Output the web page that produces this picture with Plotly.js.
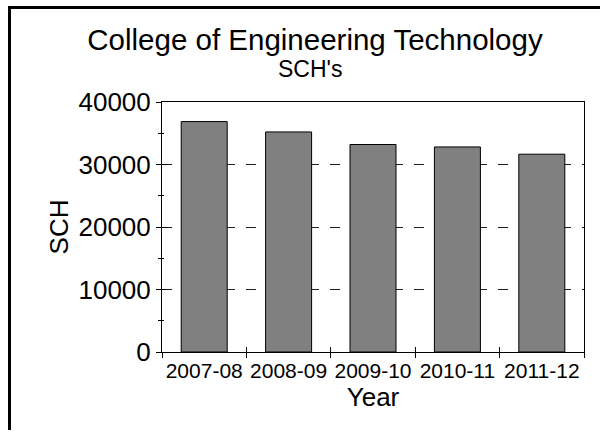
<!DOCTYPE html>
<html><head><meta charset="utf-8">
<script src="https://cdn.plot.ly/plotly-3.0.1.min.js"></script>
<style>
html,body{margin:0;padding:0;background:#fff;overflow:hidden;width:614px;height:438px}
#chart{position:absolute;left:0;top:0;width:614px;height:438px}
</style></head><body>
<div id="chart"></div>
<script>
const years = ['2007-08', '2008-09', '2009-10', '2010-11', '2011-12'];
const sch = [36870, 35210, 33200, 32810, 31650];
const yTickVals = [0, 10000, 20000, 30000, 40000];
const titleText = 'College of Engineering Technology';
const subtitleText = "SCH's";
const xTitle = 'Year';
const yTitle = 'SCH';

const FONT = 'Liberation Sans, Arial, sans-serif';
const W = 614, H = 438, ML = 162, MR = 30, MT = 102, MB = 86;
const PW = W - ML - MR, PH = H - MT - MB;
// page-frame decoration (pixel -> paper)
const px = v => (v - ML) / PW;
const py = v => (H - MB - v) / PH;

const bars = {
  type: 'bar', x: years, y: sch, xaxis: 'x', yaxis: 'y',
  marker: {color: '#808080', line: {color: '#000', width: 1}},
  hoverinfo: 'skip', showlegend: false
};
const ghost = {
  type: 'bar', x: years, y: sch, xaxis: 'x2', yaxis: 'y2',
  marker: {color: 'rgba(0,0,0,0)', line: {width: 0}},
  hoverinfo: 'skip', showlegend: false
};

const layout = {
  width: W, height: H,
  margin: {l: ML, r: MR, t: MT, b: MB, pad: 0},
  paper_bgcolor: '#fff', plot_bgcolor: '#fff',
  font: {family: FONT, color: '#000'},
  bargap: 0.455,
  showlegend: false,
  title: {
    text: titleText, font: {family: FONT, size: 29.5, color: '#000'},
    x: 0.513, xref: 'container', xanchor: 'center',
    y: 1 - 29/438, yref: 'container', yanchor: 'top'
  },
  annotations: [{
    text: subtitleText, xref: 'paper', yref: 'paper',
    x: px(310), y: py(54), xanchor: 'center', yanchor: 'top',
    showarrow: false, font: {family: FONT, size: 23, color: '#000'}
  }],
  shapes: [
    {type: 'line', xref: 'paper', yref: 'paper', x0: px(9.5), x1: px(9.5), y0: py(6), y1: py(430), line: {color: '#000', width: 3}},
    {type: 'line', xref: 'paper', yref: 'paper', x0: px(8), x1: px(600), y0: py(7.5), y1: py(7.5), line: {color: '#000', width: 3}}
  ],
  xaxis: {
    type: 'category', range: [-0.5, 4.5], fixedrange: true, tickangle: 0,
    tickson: 'boundaries', ticks: 'outside', ticklen: 5, tickcolor: '#000', tickwidth: 1,
    showline: true, linecolor: '#000', linewidth: 1, mirror: true,
    showgrid: false, zeroline: false,
    tickfont: {family: FONT, size: 21, color: '#000'},
    title: {text: xTitle, font: {family: FONT, size: 26, color: '#000'}, standoff: 4}
  },
  yaxis: {
    range: [0, 40000], fixedrange: true,
    tickmode: 'array', tickvals: yTickVals, ticktext: yTickVals.map(String),
    ticks: 'outside', ticklen: 5, tickcolor: '#000', tickwidth: 1,
    minor: {dtick: 5000, tick0: 0, ticks: 'outside', ticklen: 3, tickcolor: '#000', showgrid: false},
    showline: true, linecolor: '#000', linewidth: 1, mirror: true,
    showgrid: true, gridcolor: '#222', gridwidth: 1, griddash: '10px,11px',
    zeroline: false, ticklabelstandoff: 0,
    tickfont: {family: FONT, size: 26, color: '#000'},
    title: {text: yTitle, font: {family: FONT, size: 26, color: '#000'}, standoff: 2}
  },
  xaxis2: {
    type: 'category', range: [-0.5, 4.5], overlaying: 'x', anchor: 'y2', fixedrange: true,
    tickson: 'boundaries', ticks: 'inside', ticklen: 5, tickcolor: '#000',
    showticklabels: false, showline: false, showgrid: false, zeroline: false
  },
  yaxis2: {
    range: [0, 40000], overlaying: 'y', anchor: 'x2', fixedrange: true,
    tickmode: 'array', tickvals: yTickVals,
    ticks: 'inside', ticklen: 5, tickcolor: '#000',
    minor: {dtick: 5000, tick0: 0, ticks: 'inside', ticklen: 2, tickcolor: '#000', showgrid: false},
    showticklabels: false, showline: false, showgrid: false, zeroline: false
  }
};

Plotly.newPlot('chart', [bars, ghost], layout, {staticPlot: true, displayModeBar: false});
</script>
</body></html>
